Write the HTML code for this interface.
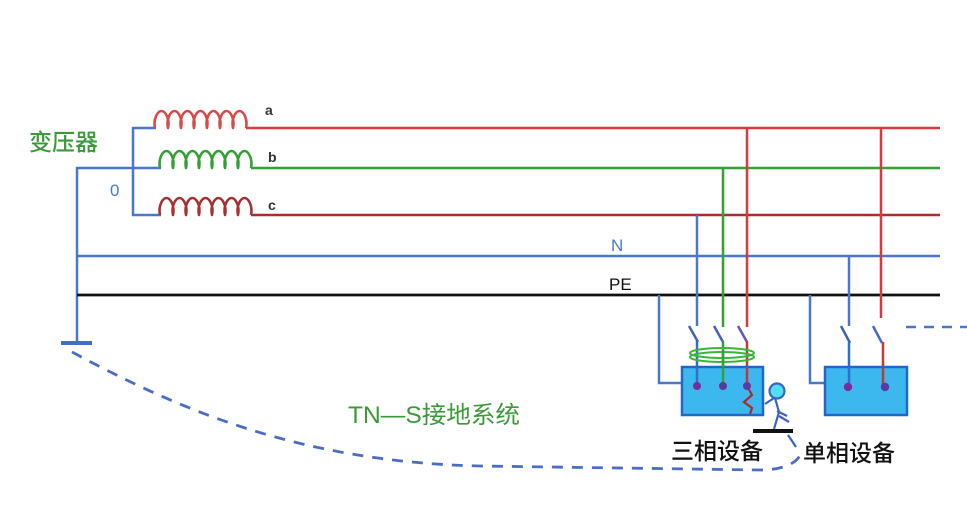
<!DOCTYPE html>
<html>
<head>
<meta charset="utf-8">
<style>
html,body{margin:0;padding:0;background:#fff;}
body{width:967px;height:510px;overflow:hidden;}
svg{display:block;}
text{font-family:"Liberation Sans","Noto Sans CJK SC",sans-serif;}
</style>
</head>
<body>
<svg width="967" height="510" viewBox="0 0 967 510" xmlns="http://www.w3.org/2000/svg">
<rect width="967" height="510" fill="#fff"/>

<!-- transformer blue star connection -->
<g stroke="#4a78c8" stroke-width="2.5" fill="none">
  <path d="M156 128 H133 V215 H161"/>
  <path d="M161 168 H77 V343"/>
</g>
<!-- ground bar -->
<rect x="61" y="341" width="31" height="4" fill="#3f6fc6"/>

<!-- coils -->
<g fill="none" stroke-width="2.6" stroke-linejoin="round">
  <path stroke="#d84a4a" d="M155 128 c-2 -10 3 -17 6.5 -17 c3.5 0 8.5 7 6.5 17 c-2 -10 3 -17 6.5 -17 c3.5 0 8.5 7 6.5 17 c-2 -10 3 -17 6.5 -17 c3.5 0 8.5 7 6.5 17 c-2 -10 3 -17 6.5 -17 c3.5 0 8.5 7 6.5 17 c-2 -10 3 -17 6.5 -17 c3.5 0 8.5 7 6.5 17 c-2 -10 3 -17 6.5 -17 c3.5 0 8.5 7 6.5 17 c-2 -10 3 -17 6.5 -17 c3.5 0 8.5 7 6.5 17"/>
  <path stroke="#32a032" d="M160 168 c-2 -10 3 -17 6.5 -17 c3.5 0 8.5 7 6.5 17 c-2 -10 3 -17 6.5 -17 c3.5 0 8.5 7 6.5 17 c-2 -10 3 -17 6.5 -17 c3.5 0 8.5 7 6.5 17 c-2 -10 3 -17 6.5 -17 c3.5 0 8.5 7 6.5 17 c-2 -10 3 -17 6.5 -17 c3.5 0 8.5 7 6.5 17 c-2 -10 3 -17 6.5 -17 c3.5 0 8.5 7 6.5 17 c-2 -10 3 -17 6.5 -17 c3.5 0 8.5 7 6.5 17"/>
  <path stroke="#a83030" d="M160 215 c-2 -10 3 -17 6.5 -17 c3.5 0 8.5 7 6.5 17 c-2 -10 3 -17 6.5 -17 c3.5 0 8.5 7 6.5 17 c-2 -10 3 -17 6.5 -17 c3.5 0 8.5 7 6.5 17 c-2 -10 3 -17 6.5 -17 c3.5 0 8.5 7 6.5 17 c-2 -10 3 -17 6.5 -17 c3.5 0 8.5 7 6.5 17 c-2 -10 3 -17 6.5 -17 c3.5 0 8.5 7 6.5 17 c-2 -10 3 -17 6.5 -17 c3.5 0 8.5 7 6.5 17"/>
</g>

<!-- main lines -->
<line x1="246" y1="128" x2="940" y2="128" stroke="#d63a3a" stroke-width="2.5"/>
<line x1="251" y1="168" x2="940" y2="168" stroke="#32a032" stroke-width="2.5"/>
<line x1="251" y1="215" x2="940" y2="215" stroke="#a82e2e" stroke-width="2.5"/>
<line x1="77" y1="256" x2="940" y2="256" stroke="#4a78c8" stroke-width="2.5"/>
<line x1="77" y1="295" x2="940" y2="295" stroke="#111" stroke-width="2.8"/>

<!-- three-phase device drops -->
<g fill="none" stroke-width="2.5">
  <path stroke="#4a78c8" d="M697 215 V326"/>
  <path stroke="#32a032" d="M723 168 V327"/>
  <path stroke="#d63a3a" d="M747 128 V327"/>
  <path stroke="#4a78c8" d="M659 295 V383 H683"/>
  <path stroke="#4060c0" d="M689 326 L698 342"/>
  <path stroke="#4060c0" d="M714 326 L723 342"/>
  <path stroke="#5a5ab8" d="M738 326 L747 342"/>
  <path stroke="#2f6fd0" d="M697 341 V386"/>
  <path stroke="#32a032" d="M723 341 V386"/>
  <path stroke="#c03838" d="M747 341 V386"/>
</g>
<rect x="682" y="367" width="81" height="48" fill="#3cb8ee" stroke="#2266cc" stroke-width="2.5"/>
<ellipse cx="722" cy="353" rx="32" ry="5" fill="none" stroke="#3cb43c" stroke-width="2"/>
<ellipse cx="722" cy="357" rx="32" ry="5" fill="none" stroke="#3cb43c" stroke-width="2"/>
<path d="M723 350 V386" stroke="#32a032" stroke-width="2.5"/>
<path d="M697 367 V386" stroke="#2f6fd0" stroke-width="2.5"/>
<path d="M747 367 V386" stroke="#c03838" stroke-width="2.5"/>
<path d="M747 386 L752 395 L744 402 L752 408 L750 414" fill="none" stroke="#b02828" stroke-width="2.2"/>
<circle cx="697" cy="386" r="4" fill="#7a2c9c"/>
<circle cx="723" cy="386" r="4" fill="#5a3a9c"/>
<circle cx="747" cy="386" r="4" fill="#5a3aa8"/>

<!-- person -->
<g stroke="#3a62c4" stroke-width="2.2" fill="none">
  <circle cx="777" cy="391" r="7.5" fill="#4fe0ef"/>
  <path d="M774 398 L765 404"/>
  <path d="M775 398 L779 412 L774 429"/>
  <path d="M777 411 L787 416"/>
  <path d="M779 416 L789 422"/>
  <path d="M788 435 L796 447"/>
</g>
<rect x="753" y="429" width="40" height="4" fill="#111"/>

<!-- single-phase device -->
<g fill="none" stroke-width="2.5">
  <path stroke="#4a78c8" d="M849 256 V326"/>
  <path stroke="#d63a3a" d="M881 128 V318"/>
  <path stroke="#4a78c8" d="M810 295 V383 H826"/>
  <path stroke="#4060c0" d="M841 326 L850 343"/>
  <path stroke="#4a6ac0" d="M873 326 L882 343"/>
  <path stroke="#2f6fd0" d="M849 342 V387"/>
  <path stroke="#c03838" d="M883 342 V387"/>
</g>
<rect x="825" y="367" width="82" height="48" fill="#3cb8ee" stroke="#2266cc" stroke-width="2.5"/>
<path d="M849 367 V387" stroke="#2f6fd0" stroke-width="2.5"/>
<path d="M883 367 V387" stroke="#c03838" stroke-width="2.5"/>
<circle cx="848" cy="387" r="4.2" fill="#7a2c9c"/>
<circle cx="885" cy="387" r="4.2" fill="#5a3aa8"/>

<!-- dashed lines -->
<path d="M906 327 H967" stroke="#4a78c8" stroke-width="2.5" stroke-dasharray="10 8" fill="none"/>
<path d="M72 352 C 180 410, 300 462, 480 466 L 760 470 C 788 470, 800 460, 801 452" stroke="#4a6ec4" stroke-width="2.8" stroke-dasharray="11 9" fill="none"/>

<!-- labels -->
<text x="29" y="150" font-size="23" fill="#3a9a3a" font-weight="500">变压器</text>
<text x="110" y="196" font-size="17" fill="#4a78c8">0</text>
<text x="265" y="115" font-size="14" fill="#333" font-weight="bold">a</text>
<text x="268" y="162" font-size="14" fill="#333" font-weight="bold">b</text>
<text x="268" y="210" font-size="14" fill="#333" font-weight="bold">c</text>
<text x="611" y="251" font-size="17" fill="#4a78c8">N</text>
<text x="609" y="290" font-size="17" fill="#111">PE</text>
<text x="348" y="423" font-size="24" fill="#3a9a3a" textLength="172" lengthAdjust="spacingAndGlyphs">TN—S接地系统</text>
<text x="671" y="459" font-size="23" fill="#111" font-weight="500">三相设备</text>
<text x="803" y="461" font-size="23" fill="#111" font-weight="500">单相设备</text>
</svg>
</body>
</html>
